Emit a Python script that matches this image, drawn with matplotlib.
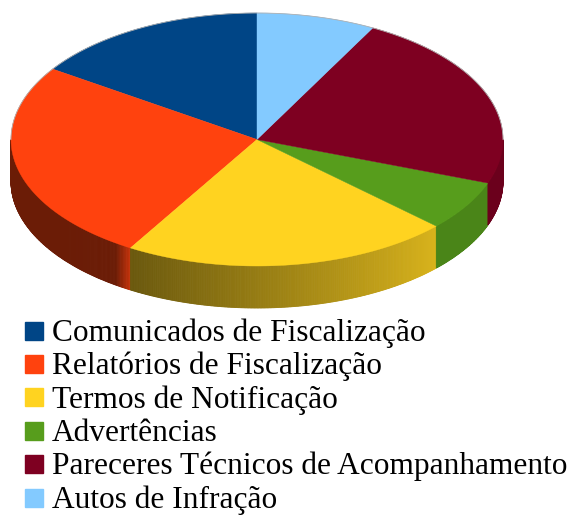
import numpy as np
import matplotlib
matplotlib.use("Agg")
import matplotlib.pyplot as plt
from matplotlib.colors import to_rgb

categories = ["Comunicados de Fiscalização", "Relatórios de Fiscalização",
              "Termos de Notificação", "Advertências",
              "Pareceres Técnicos de Acompanhamento", "Autos de Infração"]
values = [15.6, 25.8, 21.6, 6.4, 22.8, 7.8]
colors = ["#004586", "#ff420e", "#ffd320", "#579d1c", "#7e0021", "#83caff"]

W, H = 571, 515
fig = plt.figure(figsize=(W / 100, H / 100), dpi=100)
ax = fig.add_axes([0, 0, 1, 1])
ax.set_xlim(0, W)
ax.set_ylim(H, 0)
ax.axis("off")

cx, cy, a, b, depth = 257.0, 139.5, 246.0, 126.5, 42.0

total = float(sum(values))
bounds = [90.0]
for v in values:
    bounds.append(bounds[-1] + 360.0 * v / total)


def shade(theta):
    t = theta % 360.0
    if t < 240:
        return 0.42
    if t < 317:
        return 0.42 + (t - 240) / 77.0 * 0.43
    return 0.85


def edge_pt(theta, dy=0.0):
    r = np.radians(theta)
    return cx + a * np.cos(r), cy - b * np.sin(r) + dy


# side walls (front half: 180..360 deg)
for i, (t1, t2) in enumerate(zip(bounds[:-1], bounds[1:])):
    base = np.array(to_rgb(colors[i]))
    for off in (0.0, 360.0, -360.0):
        s1, s2 = max(t1 + off, 180.0), min(t2 + off, 360.0)
        if s2 <= s1:
            continue
        n = max(2, int((s2 - s1) * 3))
        ts = np.linspace(s1, s2, n + 1)
        for k in range(n):
            ta, tb = ts[k], ts[k + 1]
            f = shade((ta + tb) / 2)
            if f < 0.6 and (s2 - (ta + tb) / 2) < 4.0 and s2 < 359:
                f += 0.35 * (1 - (s2 - (ta + tb) / 2) / 4.0)
            col = np.clip(base * f, 0, 1)
            tt = np.linspace(ta, tb, 3)
            xs_top, ys_top = edge_pt(tt)
            xs_bot, ys_bot = edge_pt(tt[::-1], depth)
            ax.fill(np.r_[xs_top, xs_bot], np.r_[ys_top, ys_bot],
                    color=col, lw=0.6, ec=col, zorder=1)

# top faces
for i, (t1, t2) in enumerate(zip(bounds[:-1], bounds[1:])):
    tt = np.linspace(t1, t2, 200)
    xs, ys = edge_pt(tt)
    ax.fill(np.r_[cx, xs], np.r_[cy, ys], color=colors[i], lw=0.3,
            ec=colors[i], zorder=2)

# thin outline along the back edge of the top face
tt = np.linspace(0, 180, 300)
xs, ys = edge_pt(tt)
ax.plot(xs, ys, color="#b0b0b0", lw=0.6, zorder=3)

# legend
for i, (lab, col) in enumerate(zip(categories, colors)):
    yc = 330.5 + 33.4 * i
    ax.add_patch(plt.Rectangle((25, yc - 9), 18, 18, color=col, zorder=3))
    ax.text(52, yc + 10.3, lab, fontsize=22.6, family="Liberation Serif",
            va="baseline", ha="left", color="black")

fig.savefig("out.png", dpi=100)
